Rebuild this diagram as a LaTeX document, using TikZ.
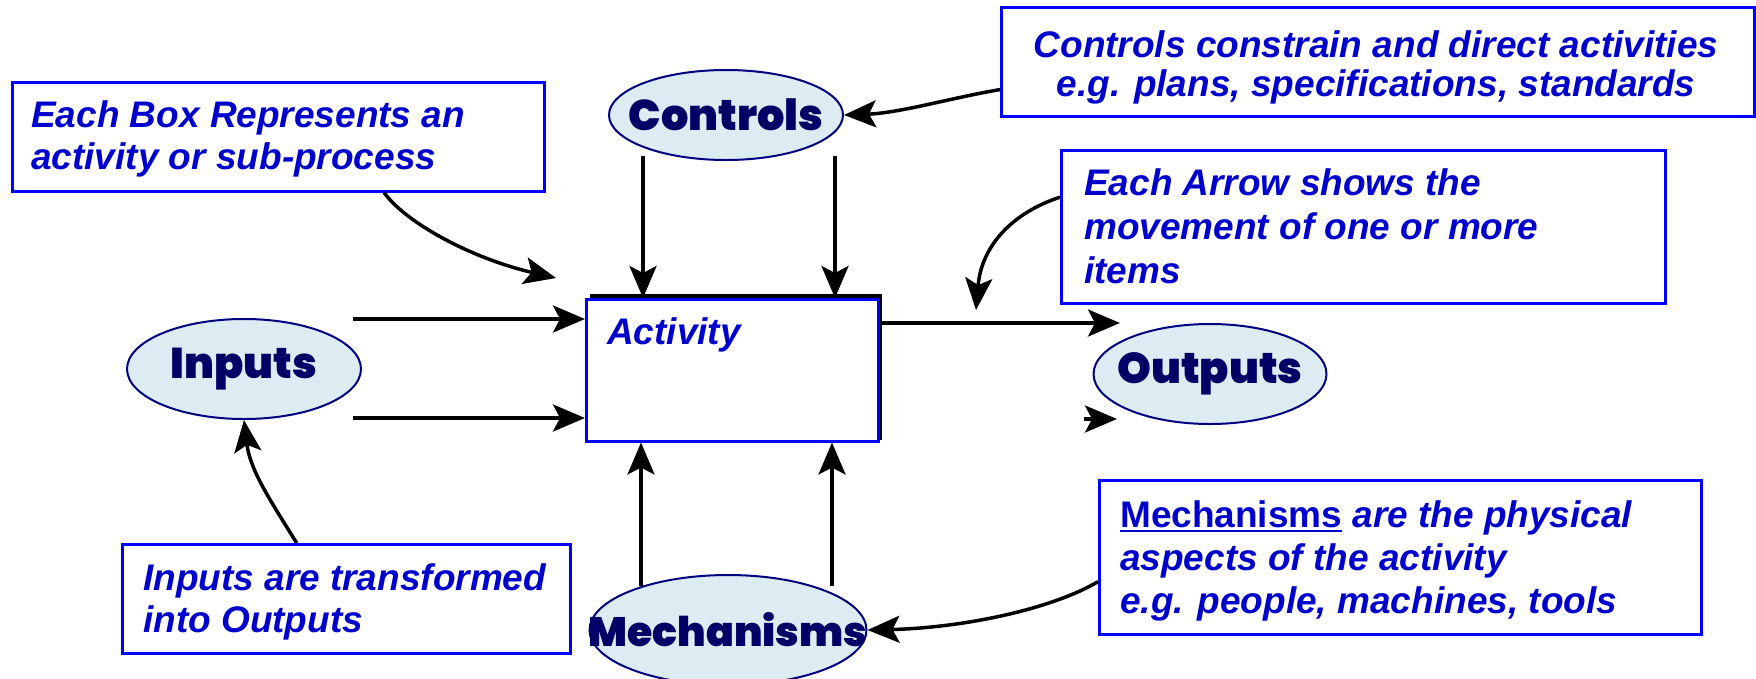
\documentclass[tikz,border=0pt]{standalone}
\usepackage{fontspec}
\setmainfont{Liberation Sans}
\newfontfamily\heavyfont{Poppins Black}
\usetikzlibrary{arrows.meta,calc,shapes.geometric}
\definecolor{paleblue}{RGB}{221,235,242}
\definecolor{navyline}{RGB}{0,0,128}
\definecolor{navytext}{RGB}{0,0,102}
\definecolor{noteblue}{RGB}{0,0,204}
\definecolor{frameblue}{RGB}{0,0,255}
\newlength\ulwd
\newcommand\thickul[1]{\settowidth{\ulwd}{#1}\rlap{\rule[-5pt]{\ulwd}{2.5pt}}#1}

\begin{document}
\begin{tikzpicture}[x=1pt,y=-1pt,
  blob/.style={ellipse, draw=navyline, line width=2pt, fill=paleblue, inner sep=0pt},
  blobtext/.style={text=navytext, font=\heavyfont\fontsize{43}{43}\selectfont, inner sep=0pt},
  notebox/.style={rectangle, draw=frameblue, line width=2.5pt, inner sep=0pt, anchor=north west},
  noteline/.style={text=noteblue, font=\bfseries\itshape\fontsize{37}{44}\selectfont, inner sep=0pt, anchor=base west},
  tip/.style={-{Stealth[length=32pt,width=27pt,inset=7pt]}},
  flow/.style={line width=3.5pt, tip},
  hint/.style={line width=3.5pt, tip},
]
\useasboundingbox (0,0) rectangle (1756,678);

% the four ICOM ellipses
\node[blob, minimum width=234pt, minimum height=90pt] (controls) at (726,115) {};
\node[blobtext] (controlsname) at (controls) {Controls};
\node[blob, minimum width=234pt, minimum height=100pt] (inputs) at (244,369) {};
\node[blobtext] (inputsname) at (inputs) {Inputs};
\node[blob, minimum width=233pt, minimum height=100pt] (outputs) at (1210,374) {};
\node[blobtext] (outputsname) at (outputs) {Outputs};
\node[blob, minimum width=277pt, minimum height=110pt] (mech) at (728,630) {};
\node[blobtext, font=\heavyfont\fontsize{41}{41}\selectfont] (mechname) at (mech) {Mechanisms};

% the activity box with its offset black shadow
\fill[black] (590,294) rectangle (882,440);
\node[rectangle, draw=frameblue, fill=white, line width=2.5pt, inner sep=0pt,
      anchor=north west, minimum width=292pt, minimum height=142pt] (act) at (585,298) {};
\node[noteline] (actname) at (607,344) {Activity};

% explanatory notes
\node[notebox, minimum width=532pt, minimum height=109pt] (eachbox) at (11,81) {};
\node[noteline] (eb1) at (31,127) {Each Box Represents an};
\node[noteline] (eb2) at (31,169) {activity or sub-process};

\node[notebox, minimum width=753pt, minimum height=109pt] (ctrlbox) at (1000,6) {};
\node[noteline, anchor=base] (cb1) at (1376,57) {Controls constrain and direct activities};
\node[noteline, anchor=base] (cb2) at (1376,96) {e.g. plans, specifications, standards};

\node[notebox, minimum width=604pt, minimum height=153pt] (arrowbox) at (1060,149) {};
\node[noteline] (ab1) at (1084,195) {Each Arrow shows the};
\node[noteline] (ab2) at (1084,239) {movement of one or more};
\node[noteline] (ab3) at (1084,283) {items};

\node[notebox, minimum width=602pt, minimum height=154pt] (mechbox) at (1098,479) {};
\node[noteline] (mb1) at (1120,527) {\thickul{{\upshape Mechanisms}} are the physical};
\node[noteline] (mb2) at (1120,570) {aspects of the activity};
\node[noteline] (mb3) at (1120,613) {e.g. people, machines, tools};

\node[notebox, minimum width=448pt, minimum height=109pt] (inbox) at (121,543) {};
\node[noteline] (ib1) at (143,590) {Inputs are transformed};
\node[noteline] (ib2) at (143,632) {into Outputs};

% straight flow arrows
\coordinate (c1) at (643,156);
\coordinate (c2) at (835,156);
\draw[flow] (c1) -- (c1 |- act.north);
\draw[flow] (c2) -- (c2 |- act.north);
\coordinate (m1) at (641,586);
\coordinate (m2) at (832,586);
\draw[flow] (m1) -- (m1 |- act.south);
\draw[flow] (m2) -- (m2 |- act.south);
\coordinate (i1) at (353,319);
\coordinate (i2) at (353,418);
\draw[flow] (i1) -- (i1 -| act.west);
\draw[flow] (i2) -- (i2 -| act.west);
\coordinate (oend) at (1120,323);
\draw[flow] (882,323) -- (oend);
\coordinate (stray) at (1117,419);
\draw[flow] ($(stray)+(-33,0)$) -- (stray);

% curved pointers from the notes
\coordinate (h1end) at (556,278);
\draw[hint] ($(eachbox.south west)!0.698!(eachbox.south east)$)
  .. controls (405,222) and (470,258) .. (h1end);
\draw[hint] ($(ctrlbox.south west)!0.25!(ctrlbox.north west)$)
  .. controls (955,97) and (900,113) .. (controls.east);
\coordinate (h3end) at (976,310);
\draw[hint] ($(arrowbox.north west)!0.31!(arrowbox.south west)$)
  .. controls (1020,210) and (982,240) .. (h3end);
\draw[hint] ($(mechbox.south west)!0.344!(mechbox.north west)$)
  .. controls (1050,610) and (960,628) .. (mech.east);
\draw[hint] ($(inbox.north west)!0.39!(inbox.north east)$)
  .. controls (270,500) and (250,470) .. (inputs.south);

\end{tikzpicture}
\end{document}
